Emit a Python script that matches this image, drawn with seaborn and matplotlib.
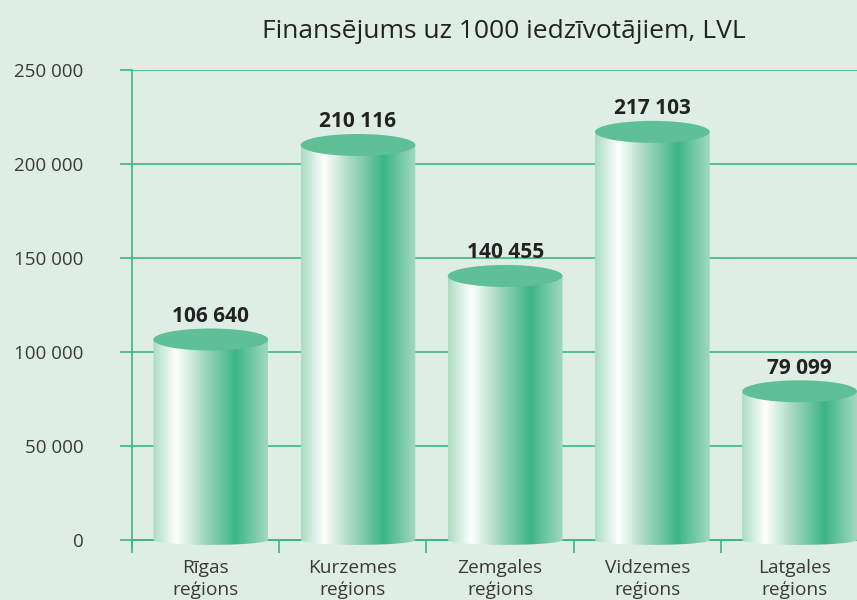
import numpy as np
import pandas as pd
import seaborn as sns
from matplotlib import pyplot as plt
from matplotlib.colors import LinearSegmentedColormap
from matplotlib.patches import Ellipse, PathPatch
from matplotlib.path import Path

regions = ["Rīgas\nreģions", "Kurzemes\nreģions", "Zemgales\nreģions",
           "Vidzemes\nreģions", "Latgales\nreģions"]
values = [106640, 210116, 140455, 217103, 79099]
value_labels = ["106 640", "210 116", "140 455", "217 103", "79 099"]
yticks = [0, 50000, 100000, 150000, 200000, 250000]
ytick_labels = ["0", "50 000", "100 000", "150 000", "200 000", "250 000"]

bg = "#deeee5"
green = "#3db684"
text_col = "#3a3a3a"

sns.set_theme(style="white", rc={"axes.facecolor": bg, "figure.facecolor": bg})
plt.rcParams["font.family"] = ["Open Sans", "DejaVu Sans"]

df = pd.DataFrame({"region": regions, "value": values})

fig = plt.figure(figsize=(8.57, 6), dpi=100)
ax = fig.add_axes([132 / 857, 0.0875, 736 / 857, 0.7958])

sns.barplot(data=df, x="region", y="value", color=green, width=0.78, ax=ax, zorder=3)

# cylinder shading across each bar
shade = LinearSegmentedColormap.from_list("cyl", [
    (0.0, "#a9dcc3"), (0.2, "#ffffff"), (0.45, "#9fd7bc"),
    (0.72, "#3cb587"), (1.0, "#a3d9c0")])
grad = np.linspace(0, 1, 256).reshape(1, -1)
top_h = 5850      # half height of top ellipse in data units
bot_d = 2600      # depth of bottom curve
nudge = 0.035     # cylinders sit a little right of the slot centre

for bar in ax.patches:
    w = bar.get_width()
    x0 = bar.get_x() + nudge
    h = bar.get_height()
    xc = x0 + w / 2
    bar.set_visible(False)
    xs = np.linspace(x0, x0 + w, 60)
    arc = -bot_d * np.sqrt(np.clip(1 - ((xs - xc) / (w / 2)) ** 2, 0, 1))
    verts = [(x0, h)] + list(zip(xs, arc)) + [(x0 + w, h), (x0, h)]
    clip = PathPatch(Path(verts), facecolor="none", edgecolor="none",
                     transform=ax.transData)
    ax.add_patch(clip)
    im = ax.imshow(grad, cmap=shade, extent=(x0, x0 + w, -bot_d, h),
                   aspect="auto", zorder=3, interpolation="bicubic")
    im.set_clip_path(clip)
    ax.add_patch(Ellipse((xc, h), w, 2 * top_h, facecolor="#5fbf96",
                         edgecolor="none", zorder=4))

for i, (v, lab) in enumerate(zip(values, value_labels)):
    ax.annotate(lab, (i + nudge, v), xytext=(0, 9), textcoords="offset points",
                ha="center", va="bottom", fontsize=15, fontweight="bold",
                color="#222222", zorder=5)

ax.set_xlim(-0.5, 4.5)
ax.set_ylim(-4000, 250000)
ax.set_yticks(yticks)
ax.set_yticklabels(ytick_labels)
ax.set_xlabel("")
ax.set_ylabel("")
ax.set_xticks(np.arange(-0.5, 5, 1), minor=True)

ax.grid(axis="y", color=green, linewidth=1.2, zorder=1)
ax.set_axisbelow(True)
for s in ["top", "right"]:
    ax.spines[s].set_visible(False)
ax.spines["left"].set_color(green)
ax.spines["left"].set_linewidth(1.2)
ax.spines["bottom"].set_position(("data", 0))
ax.spines["bottom"].set_color(green)
ax.spines["bottom"].set_linewidth(1.2)

ax.tick_params(axis="y", left=True, length=9, width=1.2, color=green, pad=26,
               labelsize=13.5, labelcolor=text_col)
ax.tick_params(axis="x", which="major", bottom=False, length=0, pad=14,
               labelsize=13.8, labelcolor=text_col)
ax.tick_params(axis="x", which="minor", bottom=True, length=9.5, width=1.2,
               color=green, direction="out")
for t in ax.get_xticklabels():
    t.set_linespacing(1.25)

fig.text(0.588, 0.948, "Finansējums uz 1000 iedzīvotājiem, LVL", ha="center",
         va="center", fontsize=19, color="#222222")

fig.savefig("out.png", dpi=100, facecolor=bg)
